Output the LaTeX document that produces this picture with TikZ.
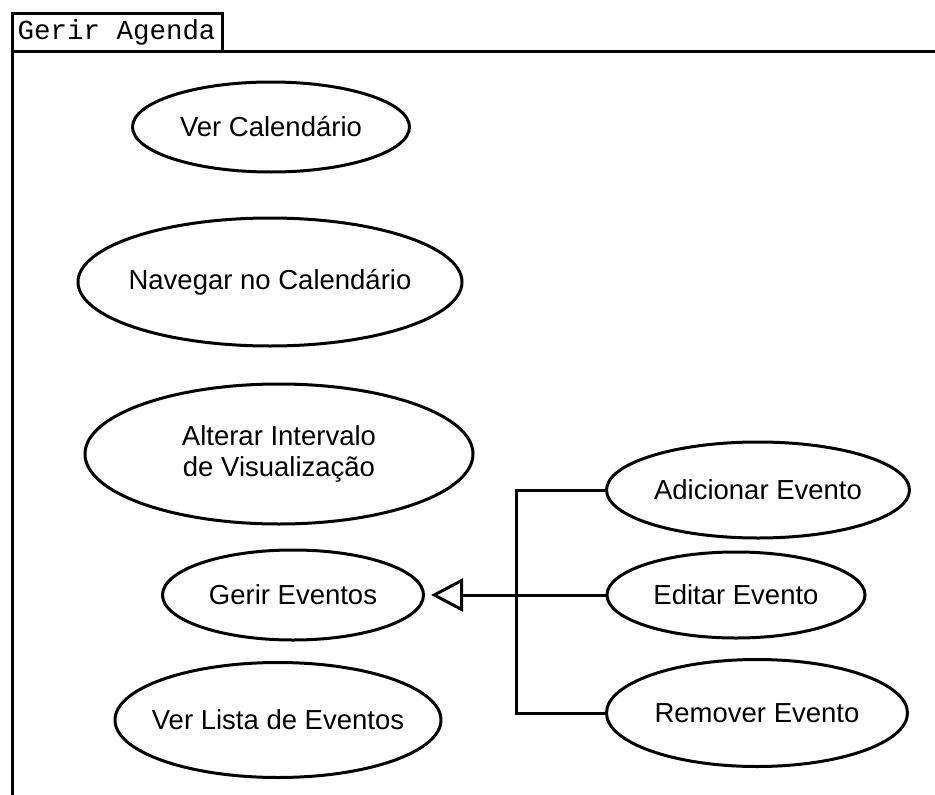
\documentclass[tikz,border=0pt]{standalone}
\usepackage{fontspec}
\setmainfont{Liberation Sans}
\newfontfamily\tabfont{Liberation Mono}
\usetikzlibrary{shapes.geometric,arrows.meta}

\begin{document}
\begin{tikzpicture}[x=1pt, y=-1pt, line width=3pt,
    usecase/.style={draw, ellipse, inner xsep=-30pt, inner ysep=0pt, align=center,
      font=\fontsize{27.5}{31}\selectfont},
    gen/.style={-{Triangle[open, length=32pt, width=33pt, line width=3pt]}, shorten >=6pt}]
    \useasboundingbox (0,0) rectangle (935,795);

    % package frame
    \draw (12,800) -- (12,51) -- (940,51);
    \draw (12,13) rectangle (222,51);
    \node[font=\tabfont\fontsize{27.5}{30}\selectfont, anchor=west, inner sep=0pt] (pkg) at (16,32) {Gerir Agenda};

    \node[usecase, minimum width=277pt, minimum height=90pt] (vercal) at (271,127) {Ver Calendário};
    \node[usecase, minimum width=384pt, minimum height=128pt] (navegar) at (270,282) {Navegar no Calendário};
    \node[usecase, minimum width=388pt, minimum height=140pt] (alterar) at (279,454) {Alterar Intervalo\\de Visualização};
    \node[usecase, minimum width=261pt, minimum height=90pt] (gerir) at (293,595) {Gerir Eventos};
    \node[usecase, minimum width=326pt, minimum height=115pt] (verlista) at (278,720) {Ver Lista de Eventos};

    \node[usecase, minimum width=303pt, minimum height=96pt] (adicionar) at (758,490) {Adicionar Evento};
    \node[usecase, minimum width=258pt, minimum height=86pt] (editar) at (736,595) {Editar Evento};
    \node[usecase, minimum width=301pt, minimum height=107pt] (remover) at (757,713) {Remover Evento};

    \coordinate (junc) at (516,595);
    \draw (adicionar.west) -| (junc) |- (remover.west);
    \draw[gen] (editar.west) -- (gerir.east);
\end{tikzpicture}
\end{document}
